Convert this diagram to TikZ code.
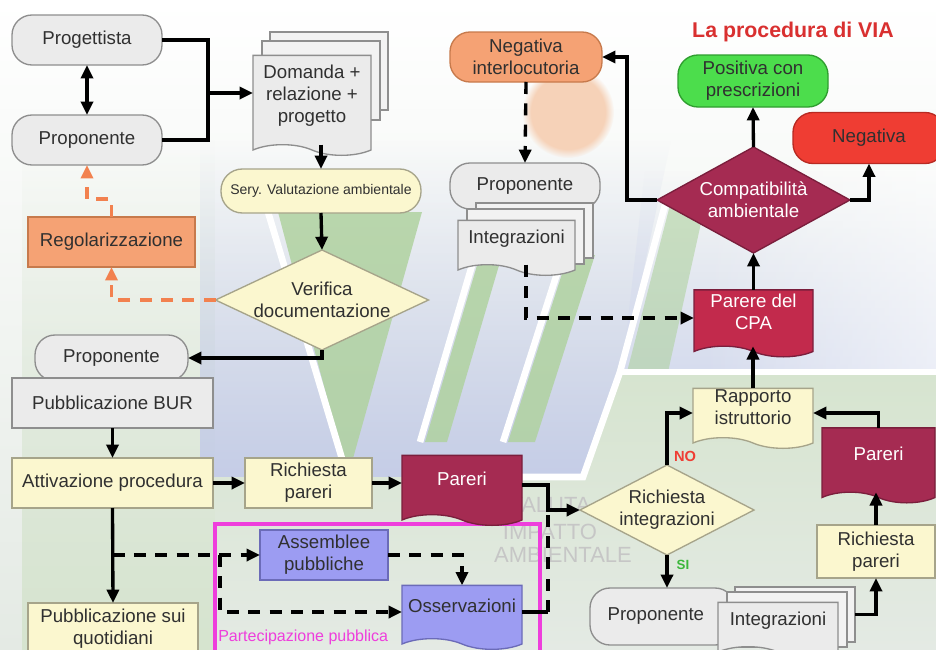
\documentclass[tikz,border=0pt]{standalone}
\usepackage{fontspec}
\setmainfont{Liberation Sans}
\usetikzlibrary{shapes.geometric,shapes.symbols,arrows.meta,calc,fadings}

\definecolor{ink}{HTML}{303030}
\definecolor{grayfill}{HTML}{EBEBEB}
\definecolor{pagefill}{HTML}{F2F2F2}
\definecolor{grayline}{HTML}{8E8E8E}
\definecolor{creamfill}{HTML}{FBF7CF}
\definecolor{creamline}{HTML}{A6A48A}
\definecolor{orangefill}{HTML}{F5A274}
\definecolor{orangeline}{HTML}{C77A4C}
\definecolor{wine}{HTML}{A52B52}
\definecolor{wineline}{HTML}{7A1E3C}
\definecolor{cpared}{HTML}{C22A4C}
\definecolor{okgreen}{HTML}{4CDD4C}
\definecolor{okline}{HTML}{2F9E2F}
\definecolor{nored}{HTML}{EF3D33}
\definecolor{noline}{HTML}{B82A22}
\definecolor{violetfill}{HTML}{9C9CF2}
\definecolor{violetline}{HTML}{6B6BB8}
\definecolor{framepink}{HTML}{EE3EDC}
\definecolor{titlered}{HTML}{D93030}
\definecolor{dashorange}{HTML}{F2814F}
\definecolor{lav}{HTML}{C5CDE7}
\definecolor{band}{HTML}{B0D2A0}
\definecolor{paleg}{HTML}{D6E4CF}
\definecolor{peach}{HTML}{F6D2B8}
\definecolor{bggray}{HTML}{E4EAE4}

% soft top edge for the tinted backdrop areas
\tikzfading[name=softtop, top color=transparent!100, middle color=transparent!0, bottom color=transparent!0]

\begin{document}
\begin{tikzpicture}[x=0.75pt,y=-0.75pt,
  sz/.style 2 args={minimum width=#1*0.75pt,minimum height=#2*0.75pt},
  base/.style={inner sep=0pt, outer sep=0pt, line width=1pt, text=ink,
    font=\fontsize{14}{16.5}\selectfont, align=center},
  pill/.style={base, rectangle, rounded corners=15pt},
  box/.style={base, rectangle},
  page/.style={base, rectangle, fill=pagefill, draw=grayline},
  doc/.style={base, tape, tape bend top=none, tape bend bottom=out and in, tape bend height=8pt, text depth=9pt},
  dia/.style={base, diamond},
  dtxt/.style={font=\fontsize{14}{16.5}\selectfont, align=center, text=ink, inner sep=0pt},
  grayish/.style={fill=grayfill, draw=grayline},
  creamy/.style={fill=creamfill, draw=creamline},
  orangy/.style={fill=orangefill, draw=orangeline},
  winy/.style={fill=wine, draw=wineline, text=white},
  violety/.style={fill=violetfill, draw=violetline},
  wm/.style={font=\fontsize{16.5}{18}\selectfont, text=gray!45, inner sep=0pt},
  line/.style={draw=black, line width=2.5pt},
  arr/.style={line, -{Triangle[length=10pt,width=9pt]}},
  dblarr/.style={line, {Triangle[length=10pt,width=9pt]}-{Triangle[length=10pt,width=9pt]}},
  dline/.style={line, dash pattern=on 9pt off 7pt},
  darr/.style={dline, -{Triangle[length=10pt,width=9pt]}},
  oarr/.style={darr, draw=dashorange}
]
\useasboundingbox (0,0) rectangle (936,650);
\clip (0,0) rectangle (936,650);

% ---------- backdrop ----------
\fill[top color=white, bottom color=bggray] (0,0) rectangle (936,650);
\fill[paleg, path fading=softtop] (22,140) rectangle (215,650);
\fill[lav, path fading=softtop] (200,140) -- (671,140) -- (622,372) -- (585,477) -- (200,477) -- cycle;
\fill[lav!70, path fading=softtop] (645,170) -- (936,170) -- (936,372) -- (622,372) -- cycle;
\fill[white, opacity=.55, path fading=west] (700,170) rectangle (936,372);
\fill[top color=paleg, bottom color=bggray] (215,477) -- (585,477) -- (622,372) -- (936,372) -- (936,650) -- (215,650) -- cycle;
\fill[band, opacity=.85] (278,212) -- (422,212) -- (352,462) -- (344,462) -- cycle;
\fill[band, opacity=.85] (478,262) -- (500,262) -- (447,442) -- (425,442) -- cycle;
\fill[band, opacity=.85] (568,255) -- (595,255) -- (535,442) -- (508,442) -- cycle;
\fill[band, opacity=.6] (670,205) -- (705,205) -- (668,372) -- (627,372) -- cycle;
\draw[white, line width=5pt] (268,212) -- (343,462);
\draw[white, line width=5pt] (473,262) -- (420,442);
\draw[white, line width=5pt] (563,255) -- (503,442);
\draw[white, line width=5pt] (665,205) -- (620,372) -- (583,477) -- (520,477);
\draw[white, line width=5pt] (620,372) -- (936,372);
\fill[peach, path fading=circle with fuzzy edge 20 percent] (568,112) circle (46);

% faint lettering behind the lower flow
\node[wm, anchor=west] (wm1) at (508,505) {VALUTA};
\node[wm] (wm2) at (550,532) {IMPATTO};
\node[wm] (wm3) at (563,555) {AMBIENTALE};

% ---------- left column ----------
\node[pill, grayish, sz={150}{50}] (prog) at (87,40) {Progettista};
\node[pill, grayish, sz={150}{50}] (propA) at (87,140) {Proponente};
\node[page, sz={118}{78}] (domP2) at (329,71) {};
\node[page, sz={118}{79}] (domP1) at (321,80.5) {};
\node[doc, grayish, sz={118}{100}] (dom) at (312,100) {Domanda +\\relazione +\\progetto};
\node[pill, creamy, sz={200}{44}, rounded corners=16pt, font=\fontsize{10.5}{12}\selectfont] (sery) at (321,191) {Sery. Valutazione ambientale};
\node[dia, creamy, sz={213}{100}, label={[dtxt]center:Verifica\\documentazione}] (ver) at (322,300) {};
\node[box, orangy, sz={167}{50}] (reg) at (111.5,242) {Regolarizzazione};
\node[pill, grayish, sz={153}{46}] (propB) at (111.5,358) {Proponente};
\node[box, grayish, sz={201}{50}] (bur) at (112.5,403) {Pubblicazione BUR};
\node[box, creamy, sz={201}{50}] (att) at (112.5,483) {Attivazione procedura};
\node[box, creamy, sz={170}{52}] (quot) at (113,629) {Pubblicazione sui\\quotidiani};
\node[box, creamy, sz={127}{50}] (richA) at (308.5,483) {Richiesta\\pareri};

% ---------- public participation ----------
\node[rectangle, draw=framepink, line width=2.5pt, sz={325}{140}, inner sep=0pt] (part) at (377.5,594) {};
\node[box, violety, sz={128}{50}] (ass) at (324,555) {Assemblee\\pubbliche};
\node[doc, violety, sz={120}{64}] (oss) at (462,612) {Osservazioni};
\node[anchor=west, inner sep=0pt, text=framepink, font=\fontsize{12}{14}\selectfont] (partlbl) at (218,637) {Partecipazione pubblica};
\node[doc, winy, sz={120}{70}] (parA) at (462,485) {Pareri};

% ---------- right side ----------
\node[dia, creamy, sz={174}{90}, label={[dtxt]center:Richiesta\\integrazioni}] (ri) at (667,510) {};
\node[pill, grayish, sz={145}{57}] (propC) at (662.5,616.5) {Proponente\hspace*{10pt}};
\node[page, sz={120}{55}] (intBp2) at (795,614.5) {};
\node[page, sz={120}{55}] (intBp1) at (787,619.5) {};
\node[doc, grayish, sz={120}{55}] (intB) at (778,624.5) {Integrazioni};
\node[box, creamy, sz={118}{53}] (rp2) at (876,551.5) {Richiesta\\pareri};
\node[doc, winy, sz={113}{75}] (par2) at (878.5,460) {Pareri};
\node[doc, creamy, sz={120}{60}] (rapp) at (753,413) {Rapporto\\istruttorio};
\node[doc, fill=cpared, draw=wineline, text=white, sz={119}{67}] (cpa) at (753.5,318) {Parere del\\CPA};
\node[dia, fill=wine, draw=wineline, sz={193}{106}, label={[dtxt, text=white]center:Compatibilità\\ambientale}] (comp) at (753.5,200) {};
\node[pill, fill=okgreen, draw=okline, sz={150}{52}] (pos) at (753,81) {Positiva con\\prescrizioni};
\node[pill, fill=nored, draw=noline, sz={152}{51}] (neg) at (869,138) {Negativa};
\node[pill, orangy, sz={152}{50}] (nint) at (526,57) {Negativa\\interlocutoria};
\node[pill, grayish, sz={150}{46}] (propM) at (525,186) {Proponente};
\node[page, sz={117}{55}] (intMp2) at (534.5,230.5) {};
\node[page, sz={117}{55}] (intMp1) at (525.5,236.5) {};
\node[doc, grayish, sz={117}{55}] (intM) at (516.5,242.5) {Integrazioni};

\node[font=\bfseries\fontsize{16}{18}\selectfont, text=titlered, inner sep=0pt] (title) at (793,32) {La procedura di VIA};
\node[font=\bfseries\fontsize{11}{12}\selectfont, text=nored, inner sep=0pt] (nolbl) at (685,456) {NO};
\node[font=\bfseries\fontsize{10}{12}\selectfont, text=okline!60!okgreen, inner sep=0pt] (silbl) at (683,565) {SI};

% ---------- connectors ----------
\coordinate (j1) at (208,93);
\draw[line] (prog.east) -| (j1) |- (propA.east);
\draw[arr] (j1) -- (j1 -| dom.west);
\draw[dblarr] (prog.south) -- (propA.north);
\draw[arr] (dom.south -| sery.north) -- (sery.north);
\draw[arr] (sery.south) -- (ver.north);
\draw[arr] (ver.south) |- (propB.east);
\draw[oarr] (ver.west) -| (reg.south);
\draw[oarr] (reg.north) -- ++(0,-18) -| (propA.south);
\draw[arr] (bur.south) -- (att.north);
\draw[arr] (att.east) -- (richA.west);
\draw[arr] (richA.east) -- (richA.east -| parA.west);
\coordinate (j2) at (548,510);
\draw[arr] (parA.east) -| (j2) -- (ri.west);
\draw[arr] (att.south) -- (quot.north);
\coordinate (j3) at (att.south |- ass.west);
\coordinate (j4) at (220,555);
\draw[darr] (j3) -- (ass.west);
\draw[darr] (j4) |- (oss.west);
\draw[darr] (ass.east) -| (oss.north);
\draw[line] (oss.east) -- (oss.east -| j2);
\draw[dline] (oss.east -| j2) -- (j2);
\draw[arr] (ri.south) -- (ri.south |- propC.north);
\draw[arr] (ri.north) |- (rapp.west);
\draw[arr] (intBp2.east) -| (rp2.south);
\draw[arr] (rp2.north) -- (rp2.north |- par2.south);
\draw[arr] (par2.north) |- (rapp.east);
\draw[arr] (rapp.north) -- (rapp.north |- cpa.south);
\draw[arr] (cpa.north) -- (comp.south);
\draw[arr] (comp.north) -- (pos.south);
\draw[arr] (comp.east) -| (neg.south);
\draw[arr] (comp.west) -- ++(-30,0) |- (nint.east);
\draw[darr] (nint.south) -- (propM.north);
\draw[darr] (intM.south -| nint.south) |- (cpa.west);
\end{tikzpicture}
\end{document}
